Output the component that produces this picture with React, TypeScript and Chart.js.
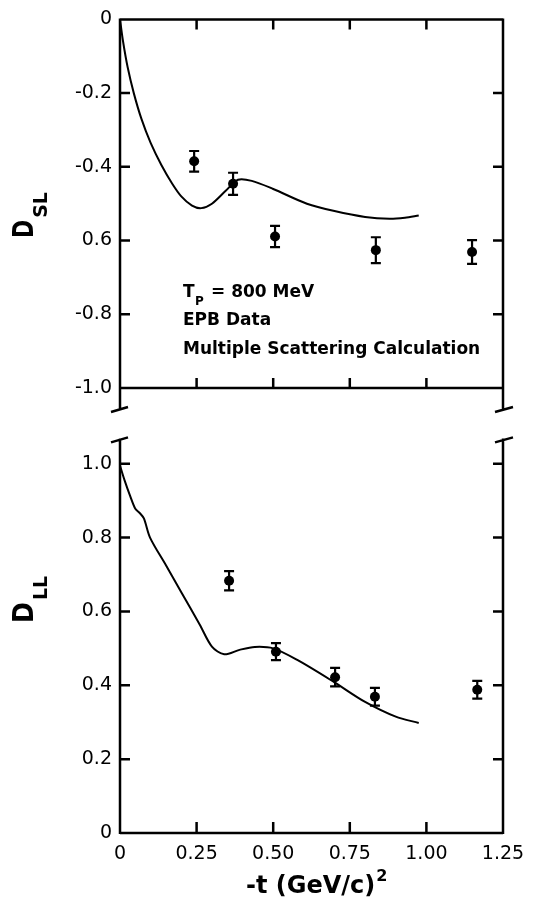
import React, { useEffect, useRef } from "react";
import { Chart, registerables } from "chart.js";
Chart.register(...registerables);

// ---------- data ----------
const xTickValues = [0, 0.25, 0.5, 0.75, 1.0, 1.25];
const xTickLabels = ["0", "0.25", "0.50", "0.75", "1.00", "1.25"];

const dslTickValues = [0, -0.2, -0.4, -0.6, -0.8, -1.0];
const dslTickLabels = ["0", "-0.2", "-0.4", "0.6", "-0.8", "-1.0"];
const dllTickValues = [0, 0.2, 0.4, 0.6, 0.8, 1.0];
const dllTickLabels = ["0", "0.2", "0.4", "0.6", "0.8", "1.0"];

// D_SL measured points (EPB data)
const dslDataX = [0.242, 0.369, 0.506, 0.835, 1.149];
const dslDataY = [-0.385, -0.446, -0.589, -0.626, -0.631];
const dslDataErr = [0.028, 0.03, 0.029, 0.035, 0.032];

// D_SL multiple scattering calculation
const dslCalcX = [0, 0.01, 0.025, 0.045, 0.07, 0.1, 0.135, 0.17, 0.2, 0.235, 0.265, 0.3, 0.345, 0.385, 0.43, 0.5, 0.61, 0.7, 0.8, 0.88, 0.93, 0.975];
const dslCalcY = [0, -0.06, -0.13, -0.2, -0.27, -0.335, -0.395, -0.445, -0.48, -0.505, -0.512, -0.5, -0.465, -0.435, -0.438, -0.46, -0.5, -0.52, -0.536, -0.541, -0.538, -0.532];

// D_LL measured points
const dllDataX = [0.356, 0.509, 0.702, 0.832, 1.166];
const dllDataY = [0.683, 0.491, 0.422, 0.369, 0.388];
const dllDataErr = [0.026, 0.023, 0.025, 0.024, 0.024];

// D_LL calculation
const dllCalcX = [0, 0.015, 0.033, 0.05, 0.065, 0.078, 0.098, 0.15, 0.2, 0.26, 0.3, 0.34, 0.39, 0.44, 0.5, 0.58, 0.7, 0.8, 0.9, 0.975];
const dllCalcY = [0.995, 0.955, 0.913, 0.878, 0.866, 0.852, 0.8, 0.725, 0.652, 0.565, 0.505, 0.484, 0.496, 0.504, 0.5, 0.468, 0.408, 0.355, 0.315, 0.298];

const annotationLines = ["EPB Data", "Multiple Scattering Calculation"];

// ---------- helpers ----------
const FONT = "'DejaVu Sans', sans-serif";
const W = 553;

function pts(xs: number[], ys: number[]) {
  return xs.map((x, i) => ({ x, y: ys[i] }));
}

function errorBarPlugin(xs: number[], ys: number[], errs: number[]) {
  return {
    id: "errbars",
    afterDatasetsDraw(chart: any) {
      const { ctx, scales } = chart;
      const sx = scales.x, sy = scales.y;
      ctx.save();
      ctx.strokeStyle = "#000";
      ctx.lineWidth = 2.2;
      xs.forEach((x, i) => {
        const px = sx.getPixelForValue(x);
        const y1 = sy.getPixelForValue(ys[i] + errs[i]);
        const y2 = sy.getPixelForValue(ys[i] - errs[i]);
        ctx.beginPath();
        ctx.moveTo(px, y1); ctx.lineTo(px, y2);
        ctx.moveTo(px - 5, y1); ctx.lineTo(px + 5, y1);
        ctx.moveTo(px - 5, y2); ctx.lineTo(px + 5, y2);
        ctx.stroke();
      });
      ctx.restore();
    },
  };
}

function drawRotLabel(ctx: CanvasRenderingContext2D, baseX: number, startY: number, main: string, sub: string, subBaseOffset: number, sx: number) {
  ctx.save();
  ctx.translate(baseX, startY);
  ctx.rotate(-Math.PI / 2);
  ctx.fillStyle = "#000";
  ctx.textBaseline = "alphabetic";
  ctx.textAlign = "left";
  ctx.save();
  ctx.scale(sx, 1);
  ctx.font = `bold 28px ${FONT}`;
  ctx.fillText(main, 0, 0);
  const mw = ctx.measureText(main).width * sx;
  ctx.restore();
  ctx.font = `bold 19px ${FONT}`;
  ctx.fillText(sub, mw + 2, subBaseOffset);
  ctx.restore();
}

function framePlugin(panel: "top" | "bottom", yTicks: number[]) {
  return {
    id: "frame" + panel,
    afterDraw(chart: any) {
      const { ctx, chartArea, scales } = chart;
      const { left, right, top, bottom } = chartArea;
      const sx = scales.x, sy = scales.y;
      ctx.save();
      ctx.strokeStyle = "#000";
      ctx.lineWidth = 2.5;
      ctx.lineCap = "butt";
      ctx.beginPath();
      const inner = xTickValues.slice(1, -1);
      const innerY = yTicks.filter((v) => {
        const p = sy.getPixelForValue(v);
        return p > top + 2 && p < bottom - 2;
      });
      if (panel === "top") {
        ctx.moveTo(left, top); ctx.lineTo(right, top);
        ctx.moveTo(left, bottom); ctx.lineTo(right, bottom);
        ctx.moveTo(left, top - 1); ctx.lineTo(left, bottom + 21);
        ctx.moveTo(right, top - 1); ctx.lineTo(right, bottom + 21);
        // breaks
        ctx.moveTo(left - 9, bottom + 24); ctx.lineTo(left + 8, bottom + 19);
        ctx.moveTo(right - 8, bottom + 24); ctx.lineTo(right + 10, bottom + 19);
        inner.forEach((v) => {
          const p = sx.getPixelForValue(v);
          ctx.moveTo(p, top); ctx.lineTo(p, top + 10);
          ctx.moveTo(p, bottom); ctx.lineTo(p, bottom - 10);
        });
      } else {
        ctx.moveTo(left, bottom); ctx.lineTo(right, bottom);
        ctx.moveTo(left, top - 1); ctx.lineTo(left, bottom + 1);
        ctx.moveTo(right, top - 1); ctx.lineTo(right, bottom + 1);
        ctx.moveTo(left - 9, top + 3); ctx.lineTo(left + 8, top - 2);
        ctx.moveTo(right - 8, top + 3); ctx.lineTo(right + 10, top - 2);
        inner.forEach((v) => {
          const p = sx.getPixelForValue(v);
          ctx.moveTo(p, bottom); ctx.lineTo(p, bottom - 11);
        });
      }
      innerY.forEach((v) => {
        const p = sy.getPixelForValue(v);
        ctx.moveTo(left, p); ctx.lineTo(left + 10, p);
        ctx.moveTo(right, p); ctx.lineTo(right - 10, p);
      });
      ctx.stroke();

      // texts
      ctx.fillStyle = "#000";
      if (panel === "top") {
        drawRotLabel(ctx, 33, 238, "D", "SL", 14, 0.78);
        ctx.textAlign = "left";
        ctx.textBaseline = "alphabetic";
        ctx.font = `bold 17px ${FONT}`;
        ctx.fillText("T", 183, 297);
        ctx.font = `bold 12px ${FONT}`;
        ctx.fillText("P", 195, 305);
        ctx.font = `bold 17px ${FONT}`;
        ctx.fillText("= 800 MeV", 211, 297);
        ctx.fillText(annotationLines[0], 183, 325);
        ctx.fillText(annotationLines[1], 183, 354);
      } else {
        drawRotLabel(ctx, 33, 623 - 420, "D", "LL", 14, 0.9);
        ctx.textAlign = "left";
        ctx.textBaseline = "alphabetic";
        ctx.font = `bold 24px ${FONT}`;
        const t = "-t (GeV/c)";
        ctx.fillText(t, 246, 893 - 420);
        const tw = ctx.measureText(t).width;
        ctx.font = `bold 16px ${FONT}`;
        ctx.fillText("2", 246 + tw + 1, 881 - 420);
      }
      ctx.restore();
    },
  };
}

function makeConfig(opts: {
  panel: "top" | "bottom";
  yMin: number; yMax: number;
  yTicks: number[]; yLabels: string[];
  dataX: number[]; dataY: number[]; err: number[];
  calcX: number[]; calcY: number[];
  padTop: number; padBottom: number; xHeight: number;
}) {
  const showX = opts.panel === "bottom";
  return {
    type: "scatter" as const,
    data: {
      datasets: [
        {
          type: "line" as const,
          data: pts(opts.calcX, opts.calcY),
          borderColor: "#000",
          borderWidth: 2,
          pointRadius: 0,
          fill: false,
          tension: 0.3,
          showLine: true,
        },
        {
          type: "scatter" as const,
          data: pts(opts.dataX, opts.dataY),
          backgroundColor: "#000",
          borderColor: "#000",
          pointRadius: 5,
          pointBorderWidth: 0,
          showLine: false,
        },
      ],
    },
    options: {
      animation: false as const,
      responsive: false,
      devicePixelRatio: 1,
      events: [],
      layout: { padding: { top: opts.padTop, bottom: opts.padBottom, left: 0, right: 50 } },
      plugins: { legend: { display: false }, tooltip: { enabled: false }, title: { display: false } },
      scales: {
        x: {
          type: "linear" as const,
          min: 0, max: 1.25,
          display: showX,
          grid: { display: false, drawTicks: false },
          border: { display: false },
          afterBuildTicks: (s: any) => { s.ticks = xTickValues.map((v) => ({ value: v })); },
          afterFit: (s: any) => { s.height = opts.xHeight; },
          ticks: {
            padding: 10,
            color: "#000",
            font: { family: FONT, size: 19 },
            maxRotation: 0,
            callback: (_v: any, i: number) => xTickLabels[i],
          },
        },
        y: {
          type: "linear" as const,
          min: opts.yMin, max: opts.yMax,
          grid: { display: false, drawTicks: false },
          border: { display: false },
          afterBuildTicks: (s: any) => { s.ticks = opts.yTicks.map((v) => ({ value: v })); },
          afterFit: (s: any) => { s.width = 120; },
          ticks: {
            padding: 8,
            color: "#000",
            font: { family: FONT, size: 19 },
            callback: (_v: any, i: number) => opts.yLabels[i],
          },
        },
      },
    },
    plugins: [errorBarPlugin(opts.dataX, opts.dataY, opts.err), framePlugin(opts.panel, opts.yTicks)],
  };
}

export default function App() {
  const topRef = useRef<HTMLCanvasElement>(null);
  const botRef = useRef<HTMLCanvasElement>(null);

  useEffect(() => {
    document.body.style.margin = "0";
    document.body.style.background = "#fff";
    const c1 = new Chart(topRef.current as HTMLCanvasElement, makeConfig({
      panel: "top",
      yMin: -1.0, yMax: 0,
      yTicks: dslTickValues, yLabels: dslTickLabels,
      dataX: dslDataX, dataY: dslDataY, err: dslDataErr,
      calcX: dslCalcX, calcY: dslCalcY,
      padTop: 11, padBottom: 420 - 388, xHeight: 0,
    }) as any);
    const c2 = new Chart(botRef.current as HTMLCanvasElement, makeConfig({
      panel: "bottom",
      yMin: 0, yMax: 1.066,
      yTicks: dllTickValues, yLabels: dllTickLabels,
      dataX: dllDataX, dataY: dllDataY, err: dllDataErr,
      calcX: dllCalcX, calcY: dllCalcY,
      padTop: 9, padBottom: 0, xHeight: 485 - 413,
    }) as any);
    return () => { c1.destroy(); c2.destroy(); };
  }, []);

  return (
    <div style={{ position: "absolute", left: 0, top: 0, width: W, height: 905, background: "#fff" }}>
      <canvas ref={topRef} width={W} height={420} style={{ position: "absolute", left: 0, top: 0, width: W, height: 420 }} />
      <canvas ref={botRef} width={W} height={485} style={{ position: "absolute", left: 0, top: 420, width: W, height: 485 }} />
    </div>
  );
}
